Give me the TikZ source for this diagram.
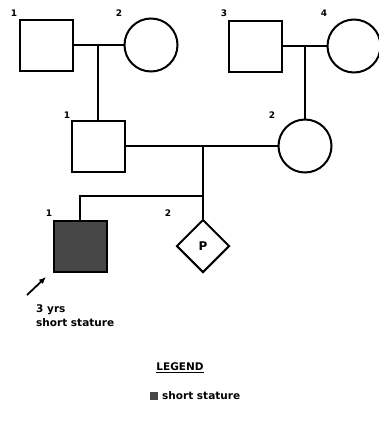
\documentclass[tikz,border=0pt]{standalone}
\usepackage{fontspec}
\setmainfont{DejaVu Sans}
\usetikzlibrary{arrows.meta,shapes.geometric,positioning,calc}
\tikzset{
  pednode/.style={draw, line width=2pt, inner sep=0pt},
  male/.style={pednode, rectangle, minimum width=53pt, minimum height=51pt},
  female/.style={pednode, circle, minimum size=53pt},
  unknownsex/.style={pednode, diamond, minimum size=53pt, font=\large\bfseries},
  affected/.style={male, fill=black!72},
  pedline/.style={line width=2pt},
  idlabel/.style={font=\small\bfseries, inner sep=1pt},
  note/.style={font=\fontsize{10.5}{12}\selectfont\bfseries, anchor=west, inner sep=0pt}
}
\begin{document}
\begin{tikzpicture}[x=1pt, y=-1pt]
  \useasboundingbox (0,0) rectangle (379,434);
  % generation I
  \node[male] (gi1) at (46,45) {};
  \node[female] (gi2) at (151,45) {};
  \node[male] (gi3) at (255,46) {};
  \node[female] (gi4) at (354,46) {};
  \node[idlabel] at (14,13) {1};
  \node[idlabel] at (119,13) {2};
  \node[idlabel] at (224,13) {3};
  \node[idlabel] at (324,13) {4};
  % generation II
  \node[male] (gii1) at (98,146) {};
  \node[female] (gii2) at (305,146) {};
  \node[idlabel] at (67,115) {1};
  \node[idlabel] at (272,115) {2};
  % generation III
  \node[affected] (giii1) at (80,246) {};
  \node[unknownsex] (giii2) at (203,246) {P};
  \node[idlabel] at (49,213) {1};
  \node[idlabel] at (168,213) {2};
  % matings and descent
  \draw[pedline] (gi1.east) -- (gi2.west);
  \draw[pedline] (gi3.east) -- (gi4.west);
  \draw[pedline] (gii1.east) -- (gii2.west);
  \coordinate (mi12) at (98,45);
  \coordinate (mi34) at (305,46);
  \coordinate (mii) at (203,146);
  \coordinate (sib) at (203,196);
  \draw[pedline] (mi12) -- (gii1.north);
  \draw[pedline] (mi34) -- (gii2.north);
  \draw[pedline] (mii) -- (giii2.north);
  \draw[pedline] (sib) -| (giii1.north);
  % proband
  \coordinate (prtail) at (27,295);
  \coordinate (prhead) at (46,277);
  \draw[line width=1.8pt, -{Latex[length=7pt, width=6pt]}] (prtail) -- (prhead);
  \node[note] (age) at (36,310) {3 yrs};
  \node[note, below=3pt of age.south west, anchor=north west] (dx) {short stature};
  % legend
  \node[font=\fontsize{10.5}{12}\selectfont\bfseries] (legend) at (180,368) {\underline{LEGEND}};
  \node[note] (lgtext) at (162,396) {short stature};
  \node[fill=black!72, minimum size=8pt, inner sep=0pt, left=4pt of lgtext] (lgbox) {};
\end{tikzpicture}
\end{document}
